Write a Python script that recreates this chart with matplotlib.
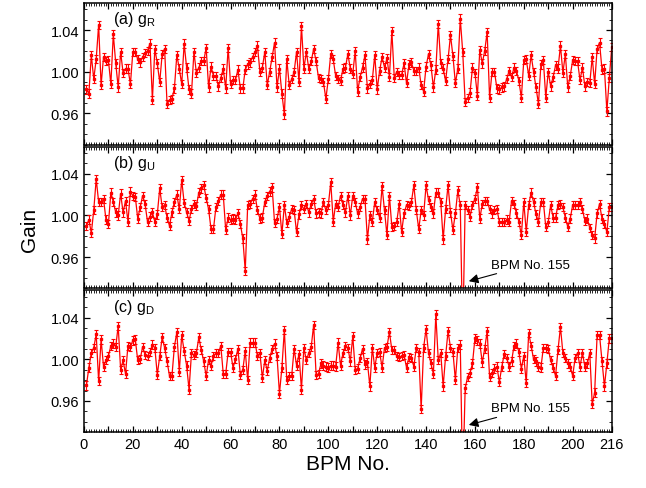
import numpy as np
import matplotlib.pyplot as plt
from matplotlib.ticker import FixedLocator, MultipleLocator

plt.rcParams['font.family'] = ['Liberation Sans', 'DejaVu Sans']
plt.rcParams['mathtext.fontset'] = 'custom'
plt.rcParams['mathtext.rm'] = 'Liberation Sans'

# BPM index
bpm = np.arange(1, 217)

# (a) g_R
gain_r = [
    0.983, 0.979, 1.016, 0.993, 1.012, 1.045, 0.987, 1.014, 1.010, 1.011,
    0.988, 1.036, 1.008, 0.985, 1.019, 0.999, 1.003, 1.003, 0.988, 1.019,
    1.019, 1.012, 1.009, 1.014, 1.018, 1.020, 1.027, 0.973, 1.022, 1.008,
    0.990, 1.017, 1.022, 0.969, 0.973, 0.974, 0.984, 1.016, 1.003, 0.988,
    1.027, 1.004, 0.983, 0.979, 1.019, 0.999, 1.004, 1.010, 1.010, 1.023,
    0.985, 1.005, 0.996, 0.996, 0.986,
    0.994, 1.003, 0.984, 1.023, 0.988, 0.992, 0.992, 1.002, 0.984, 0.984,
    1.002, 1.007, 1.009, 1.014, 1.019, 1.025, 1.000, 1.004, 1.019, 0.987,
    1.000, 1.014, 1.028, 0.985, 1.003, 0.979, 0.959, 1.012, 0.987, 0.993,
    1.000, 1.019, 0.990, 1.044, 1.003, 1.019, 1.003, 1.010, 1.022, 1.010,
    0.994, 0.993, 0.990, 0.974, 0.993, 1.017, 1.012, 0.996, 0.993, 0.991,
    1.003, 1.004, 1.017, 1.003,
    0.998, 1.020, 0.981, 0.995, 1.004, 1.016, 0.984, 0.988, 0.992, 1.016,
    0.983, 1.001, 1.014, 1.004, 1.013, 0.995, 1.039, 0.994, 1.000, 0.997,
    0.997, 1.008, 0.989, 1.007, 1.009, 1.001, 1.001, 1.004, 0.987, 0.981,
    1.005, 1.017, 1.006, 0.985, 1.002, 1.046, 1.008, 1.003, 0.991, 1.012,
    1.035, 1.015, 0.989, 1.003, 1.051, 1.019, 0.971, 0.975, 0.980, 1.004,
    0.999, 0.977, 1.021,
    1.008, 1.020, 1.038, 0.975, 1.000, 1.000, 0.984, 0.983, 0.985, 0.986,
    0.993, 1.001, 0.995, 1.004, 1.001, 0.991, 0.975, 1.011, 1.012, 0.996,
    1.016, 1.000, 0.985, 0.969, 1.007, 1.011, 0.975, 1.000, 0.986, 0.995,
    1.006, 1.003, 1.025, 0.999, 1.017, 0.985, 0.996, 1.011, 1.010, 1.010,
    0.992, 1.004, 0.986, 0.990, 0.989, 1.014, 0.988, 1.022, 1.028, 1.002,
    1.003, 0.962, 0.994, 1.024,
]

# (b) g_U
gain_u = [
    0.990, 0.996, 0.983, 1.005, 1.035, 1.013, 1.013, 1.016, 0.996, 0.992,
    1.022, 1.013, 1.003, 1.000, 1.021, 1.003, 1.014, 0.994, 1.023, 1.019,
    1.018, 0.997, 1.008, 1.019, 1.011, 0.994, 0.999, 1.003, 0.994, 1.001,
    1.026, 1.008, 1.010, 0.998, 0.990, 1.003, 1.013, 1.020, 1.006, 1.034,
    1.012, 1.003, 0.995, 1.006, 1.011, 1.009, 1.022, 1.026, 1.029, 1.017,
    1.006, 0.987, 0.987, 1.008,
    1.014, 1.020, 1.020, 0.986, 0.998, 0.996, 0.997, 0.996, 1.002, 0.992,
    0.978, 0.947, 1.010, 1.011, 1.016, 1.020, 1.005, 0.997, 0.998, 1.013,
    1.019, 1.023, 1.027, 0.993, 0.997, 1.008, 0.982, 1.010, 0.993, 0.999,
    1.006, 1.005, 0.984, 1.001, 1.010, 1.006, 1.011, 1.003, 1.011, 1.016,
    1.002, 1.003, 1.002, 1.013, 1.005, 1.010, 1.032, 0.994, 1.011, 1.008,
    1.019, 1.010, 1.003, 1.019,
    1.000, 1.019, 1.013, 1.002, 1.008, 1.016, 1.016, 0.977, 1.000, 0.994,
    1.013, 1.005, 0.998, 1.028, 1.005, 0.981, 1.019, 0.989, 0.990, 0.994,
    1.011, 0.984, 1.002, 1.010, 1.009, 1.013, 1.029, 1.005, 0.987, 1.005,
    1.000, 1.029, 1.015, 1.008, 1.002, 1.022, 1.022, 1.013, 0.977, 1.006,
    1.029, 1.003, 0.986, 1.002, 1.024, 1.010, 0.880, 1.010, 1.005, 0.999,
    1.010, 1.016, 1.027, 0.997,
    1.011, 1.014, 1.014, 1.006, 1.002, 1.005, 1.006, 0.994, 0.994, 0.994,
    0.996, 0.994, 1.014, 1.011, 1.002, 0.994, 0.981, 1.013, 0.984, 1.010,
    1.022, 1.013, 1.001, 0.994, 1.013, 1.013, 0.989, 0.994, 1.010, 0.998,
    0.998, 1.010, 1.011, 1.008, 0.998, 0.989, 0.997, 1.010, 1.010, 1.010,
    1.013, 1.006, 0.995, 0.997, 0.988, 0.981, 0.978, 1.002, 1.011, 0.997,
    0.992, 0.984, 1.008, 1.008,
]

# (c) g_D
gain_d = [
    0.975, 0.992, 1.006, 1.011, 1.024, 0.979, 1.019, 0.993, 0.999, 1.003,
    1.013, 1.015, 1.012, 1.032, 0.990, 0.999, 0.986, 1.013, 1.012, 1.018,
    1.019, 0.999, 1.000, 1.012, 1.004, 1.003, 1.007, 1.014, 1.011, 0.985,
    1.003, 1.021, 1.011, 0.998, 0.984, 0.984, 1.012, 1.026, 0.988, 1.023,
    1.008, 0.994, 0.971, 1.006, 1.004, 1.006, 1.021, 1.009, 0.998, 0.984,
    0.999, 0.994, 1.003, 1.006,
    1.006, 1.013, 0.986, 0.986, 1.007, 1.007, 0.992, 1.000, 1.010, 0.985,
    0.990, 1.008, 0.980, 1.016, 1.016, 1.016, 1.003, 1.006, 0.982, 0.999,
    0.989, 1.001, 1.010, 1.015, 1.003, 0.967, 0.992, 1.028, 0.980, 0.984,
    0.984, 1.010, 0.994, 1.005, 0.971, 1.011, 0.999, 1.006, 1.012, 1.033,
    0.985, 0.986, 0.996, 0.994, 0.993, 0.992, 0.994, 0.994, 0.993, 1.016,
    0.994, 1.006, 1.013, 1.011,
    0.998, 1.022, 0.990, 0.991, 1.001, 1.010, 0.995, 0.997, 0.974, 1.011,
    0.992, 1.006, 1.007, 0.992, 1.011, 1.012, 1.026, 1.009, 1.009, 1.003,
    1.002, 1.003, 1.004, 0.992, 1.002, 1.001, 0.993, 1.011, 1.007, 0.952,
    1.011, 1.029, 1.006, 0.996, 0.986, 1.043, 0.999, 1.006, 0.974, 1.003,
    1.027, 1.011, 1.007, 0.980, 1.011, 1.014, 0.880, 0.972, 0.983, 0.987,
    0.996, 1.020, 1.018, 1.015,
    0.997, 1.010, 1.027, 0.983, 0.987, 0.991, 0.993, 0.978, 0.993, 1.005,
    1.001, 0.993, 0.998, 1.013, 1.015, 1.007, 0.991, 1.003, 0.977, 1.025,
    1.013, 1.000, 0.998, 0.993, 0.992, 1.011, 1.011, 1.010, 0.999, 0.992,
    0.984, 1.009, 1.031, 1.006, 1.001, 0.996, 0.993, 0.984, 1.001, 1.006,
    0.993, 1.006, 0.993, 0.996, 1.006, 0.957, 0.968, 1.023, 1.023, 0.998,
    0.974, 0.996, 1.020, 1.020,
]

gain_err = 0.004
labels = [r'(a) g$_\mathregular{R}$', r'(b) g$_\mathregular{U}$', r'(c) g$_\mathregular{D}$']
x_ticks = list(range(0, 201, 10)) + [216]

fig = plt.figure(figsize=(6.46, 4.89), dpi=100)
bottoms = [0.702, 0.408, 0.114]
axes = [fig.add_axes([0.130, b, 0.817, 0.290]) for b in bottoms]

for ax, g, lab in zip(axes, [gain_r, gain_u, gain_d], labels):
    ax.errorbar(bpm, g, yerr=gain_err, color='red', lw=0.9, marker='s', ms=2.0,
                capsize=1.6, elinewidth=0.8, capthick=0.8)
    ax.set_xlim(0, 216)
    ax.set_ylim(0.93, 1.066)
    ax.yaxis.set_major_locator(FixedLocator([0.96, 1.00, 1.04]))
    ax.yaxis.set_minor_locator(MultipleLocator(0.01))
    ax.set_yticklabels(['0.96', '1.00', '1.04'])
    ax.xaxis.set_major_locator(FixedLocator(x_ticks))
    ax.xaxis.set_minor_locator(MultipleLocator(1))
    ax.tick_params(which='both', direction='in', top=True, right=True, labelsize=10.5)
    ax.tick_params(which='major', length=4, width=0.9)
    ax.tick_params(which='minor', length=2, width=0.6)
    for s in ax.spines.values():
        s.set_linewidth(1.1)
    ax.text(0.055, 0.955, lab, transform=ax.transAxes, va='top', ha='left', fontsize=11.5)

for ax in axes[:2]:
    ax.tick_params(labelbottom=False)
axes[2].set_xticklabels([str(t) if (t % 20 == 0 or t == 216) else '' for t in x_ticks])

for ax in axes[1:]:
    ax.annotate('BPM No. 155', xy=(157.5, 0.937), xytext=(166.5, 0.953),
                fontsize=9.5, va='center', ha='left',
                arrowprops=dict(arrowstyle='-|>', color='black', lw=0.8,
                                mutation_scale=14, shrinkA=1, shrinkB=0))

fig.text(0.045, 0.53, 'Gain', rotation=90, fontsize=15, va='center', ha='center')
axes[2].set_xlabel('BPM No.', fontsize=15, labelpad=2)

fig.savefig('out.png', dpi=100)
